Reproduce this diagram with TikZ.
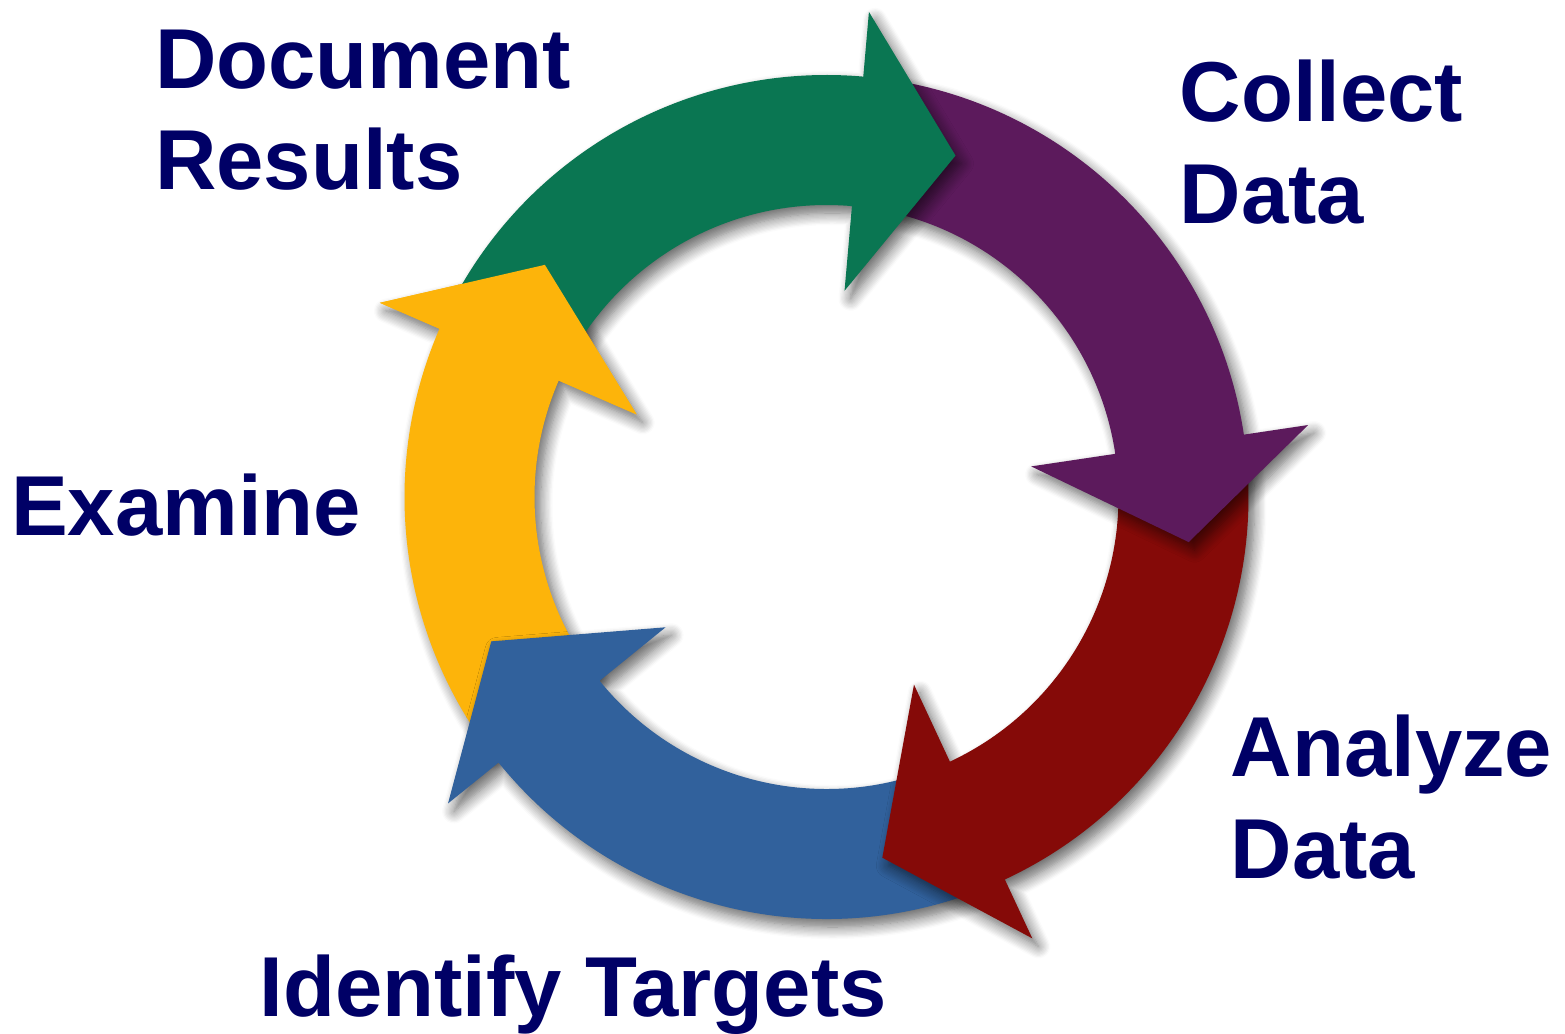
\documentclass[tikz,border=0pt]{standalone}
\usepackage{fontspec}
\setmainfont{Liberation Sans}
\usetikzlibrary{shadows.blur}
\definecolor{cgreen}{RGB}{10,118,82}
\definecolor{cpurple}{RGB}{92,26,92}
\definecolor{cred}{RGB}{133,10,8}
\definecolor{cblue}{RGB}{49,97,156}
\definecolor{cyellow}{RGB}{253,180,10}
\definecolor{navy}{RGB}{0,0,102}
% radii of the ring and of the heads
\def\Ro{4.22}\def\Ri{2.92}\def\Rbo{4.87}\def\Rbi{2.07}\def\Rtip{3.65}
% colour, tail angle, head base angle, tip angle
\newcommand{\cyclearrow}[4]{%
	\fill[#1,arrowshade] (#2:\Ro) arc[start angle=#2,end angle=#3,radius=\Ro]
		-- (#3:\Rbo) -- (#4:\Rtip) -- (#3:\Rbi) -- (#3:\Ri)
		arc[start angle=#3,end angle=#2,radius=\Ri] -- cycle;}
\begin{document}
\begin{tikzpicture}[line join=round,
	arrowshade/.style={blur shadow={shadow xshift=0.06cm,shadow yshift=-0.08cm,shadow blur radius=0.12cm,shadow blur steps=10,shadow opacity=60}},
	lbl/.style={text=navy,font=\bfseries\fontsize{24.2}{29}\selectfont,align=left,anchor=base west,inner sep=0pt}]
	\useasboundingbox (-8.265,-5.36) rectangle (7.385,4.97);
	\foreach \col/\ta/\ba/\tp in {cyellow/217/156.5/140.5,cblue/-67/-141/-156.7,cred/6.5/-65/-81.2,cpurple/83/8.5/-7.1,cgreen/153/85/69.3}{
		\cyclearrow{\col}{\ta}{\ba}{\tp}}
	% yellow head back on top of the green tail
	\fill[cyellow] (156.5:\Rbo) -- (140.5:\Rtip) -- (156.5:\Rbi) -- cycle;
	\node[lbl] (docres) at (-6.72,3.07) {Document\\Results};
	\node[lbl] (coldata) at (3.525,2.74) {Collect\\Data};
	\node[lbl] (anadata) at (4.035,-3.81) {Analyze\\Data};
	\node[lbl] (examine) at (-8.16,-0.38) {Examine};
	\node[lbl] (idtarget) at (-5.675,-5.19) {Identify Targets};
\end{tikzpicture}
\end{document}
